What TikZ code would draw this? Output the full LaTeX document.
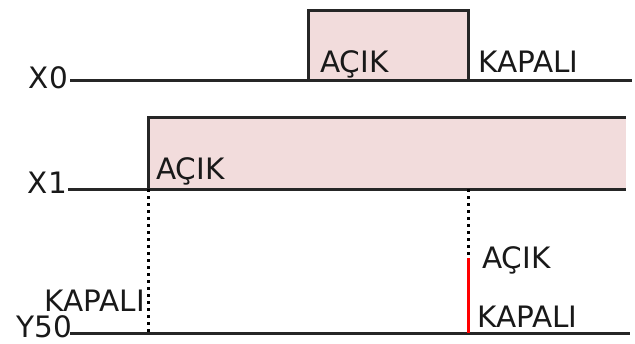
\documentclass[tikz,border=0pt]{standalone}
\usepackage{fontspec}
\setmainfont{DejaVu Sans}
\usepackage{tikz}
\usetikzlibrary{calc, positioning}
\definecolor{pulsepink}{RGB}{242,220,220}

\begin{document}
\begin{tikzpicture}[x=1pt, y=-1pt,
            signame/.style={anchor=base east, inner sep=0pt, text=black!90, font=\fontsize{29.5}{31}\selectfont},
            statetext/.style={anchor=base west, inner sep=0pt, text=black!90, font=\fontsize{29.5}{31}\selectfont},
            sigline/.style={draw=black!85, line width=3pt},
            guide/.style={draw=black, line width=3pt, dash pattern=on 2.5pt off 4.5pt},
            ]
            \useasboundingbox (0,0) rectangle (635,343);

            %Pulses
            \fill[pulsepink] (308,10) rectangle (468,80);
            \fill[pulsepink] (148,117) rectangle (626,189);
            \draw[sigline] (308,80) -- (308,10) -- (468,10) -- (468,80);
            \draw[sigline] (148,189) -- (148,117) -- (626,117);

            %Signal start points
            \coordinate (x0start) at (70,80);
            \coordinate (x1start) at (68,189);
            \coordinate (y50start) at (70,333);
            \coordinate (x0end) at (632,80);
            \coordinate (x1end) at (626,189);
            \coordinate (y50end) at (630,333);

            %Nodes
            \node[signame] (x0name) at (68,88) {X0};
            \node[signame] (x1name) at (67,193) {X1};
            \node[signame] (y50name) at (72,337) {Y50};

            \node[statetext] (x0on) at (320,72) {AÇIK};
            \node[statetext] (x0off) at (478,72) {KAPALI};
            \node[statetext] (x1on) at (156,179) {AÇIK};
            \node[statetext, anchor=base east] (y50off) at (145,311) {KAPALI};
            \node[statetext] (y50on) at (482,268) {AÇIK};
            \node[statetext] (y50off2) at (477,327) {KAPALI};

            %Lines
            \draw[sigline] (x0start) -- (x0end);
            \draw[sigline] (x1start) -- (x1end);
            \draw[sigline] (y50start) -- (y50end);

            \coordinate (x1rise) at (148,189);
            \coordinate (x0fall) at (468,189);
            \coordinate (y50rise) at (468,258);
            \draw[guide] (x1rise) -- (x1rise |- y50start);
            \draw[guide] (x0fall) -- (y50rise);
            \draw[red, line width=3pt] (y50rise) -- (y50rise |- y50start);
\end{tikzpicture}
\end{document}
